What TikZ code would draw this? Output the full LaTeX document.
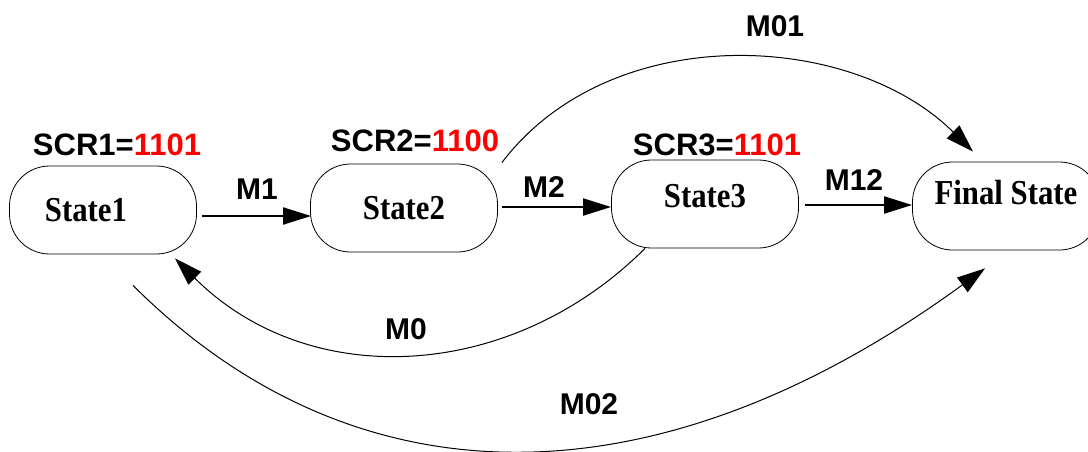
\documentclass[tikz,border=0pt]{standalone}
\usepackage{fontspec}
\setmainfont{Liberation Serif}
\setsansfont{Liberation Sans}
\newfontfamily\statefont[FakeStretch=0.88]{Liberation Serif}
\usetikzlibrary{arrows.meta,positioning}
\definecolor{scr}{RGB}{255,0,0}
\tikzset{
  state/.style={draw,rounded corners=20pt,minimum width=93.5pt,minimum height=44pt,
    inner sep=0pt,font=\statefont\fontsize{17.5}{20}\selectfont\bfseries},
  lbl/.style={font=\sffamily\fontsize{15}{18}\selectfont\bfseries,inner sep=0pt},
  reg/.style={font=\sffamily\fontsize{15.5}{18}\selectfont\bfseries,inner sep=0pt},
  mv/.style={-{Triangle[length=14pt,width=8.5pt]},line width=1pt},
  bow/.style={-{Triangle[length=14pt,width=9pt]},line width=0.5pt},
}

\begin{document}
\begin{tikzpicture}[x=0.5pt,y=-0.5pt]
  \useasboundingbox (0,0) rectangle (1088,451);
  % states
  \node[state] (s1) at (103,210) {\hspace*{-17pt}State1};
  \node[state] (s2) at (404,208) {State2};
  \node[state] (s3) at (705,204) {\raisebox{8pt}{State3}};
  \node[state] (fin) at (1006,206) {\raisebox{14pt}{Final State}};

  % register values
  \node[reg] (r1) at (117,145) {SCR1=\textcolor{scr}{1101}};
  \node[reg] (r2) at (415,141) {SCR2=\textcolor{scr}{1100}};
  \node[reg] (r3) at (717,145) {SCR3=\textcolor{scr}{1101}};

  % forward moves
  \draw[mv] ([shift={(5,6)}]s1.east) -- ([shift={(1,8)}]s2.west);
  \draw[mv] ([shift={(4,-1)}]s2.east) -- ([shift={(0,3)}]s3.west);
  \draw[mv] ([shift={(6,1)}]s3.east) -- ([shift={(0,-1)}]fin.west);
  \node[lbl] (m1) at (257,189) {M1};
  \node[lbl] (m2) at (544,187) {M2};
  \node[lbl] (m12) at (854,180) {M12};

  % jumps
  \draw[bow] ([shift={(4,-1)}]s2.north east) .. controls (610,20) and (850,30) .. ([shift={(-33,-10)}]fin.north);
  \draw[bow] ([shift={(-60,0)}]s3.south) .. controls (511,382) and (309,392) .. ([shift={(72,4)}]s1.south);
  \draw[bow] ([shift={(30,31)}]s1.south) .. controls (355,507) and (655,509) .. ([shift={(-21,18)}]fin.south);
  \node[lbl] (m01) at (775,26) {M01};
  \node[lbl] (m0) at (406,329) {M0};
  \node[lbl] (m02) at (589,404) {M02};
\end{tikzpicture}
\end{document}
